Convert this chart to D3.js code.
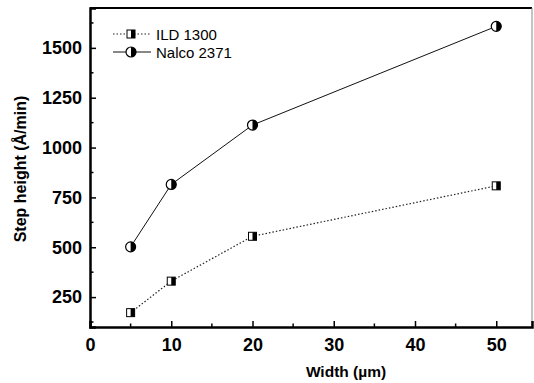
<!DOCTYPE html>
<html><head><meta charset="utf-8">
<script src="https://cdn.jsdelivr.net/npm/d3@7"></script>
<style>body{margin:0;background:#fff}svg{display:block}</style>
</head><body><svg id="c" width="534" height="383"></svg>
<script>
const widths = [5, 10, 20, 50];
const ild1300 = [172, 330, 555, 808];
const nalco2371 = [502, 815, 1113, 1608];
const seriesNames = ["ILD 1300", "Nalco 2371"];
const xTicks = [0, 10, 20, 30, 40, 50];
const yTicks = [250, 500, 750, 1000, 1250, 1500];

const svg = d3.select("#c");
const L = 90, R = 532, T = 8, B = 327;
const x = d3.scaleLinear().domain([0, 54.4]).range([L, R]);
const y = d3.scaleLinear().domain([100, 1700]).range([B, T]);
const font = "'Liberation Sans', Arial, sans-serif";

// frame
svg.append("line").attr("x1", L).attr("x2", R).attr("y1", T).attr("y2", T).attr("stroke", "#000").attr("stroke-width", 2);
svg.append("line").attr("x1", R).attr("x2", R).attr("y1", T).attr("y2", B).attr("stroke", "#888").attr("stroke-width", 1);

// axes
const xAxis = d3.axisBottom(x).tickValues(xTicks).tickSize(-6).tickPadding(11).tickFormat(d3.format("d"));
const gx = svg.append("g").attr("transform", `translate(0,${B})`).call(xAxis);
const yAxis = d3.axisLeft(y).tickValues(yTicks).tickSize(-6).tickPadding(8).tickFormat(d3.format("d"));
const gy = svg.append("g").attr("transform", `translate(${L},0)`).call(yAxis);
[gx, gy].forEach(g => {
  g.select(".domain").attr("stroke", "#000").attr("stroke-width", 2.5);
  g.selectAll(".tick line").attr("stroke", "#000").attr("stroke-width", 1.5);
  g.selectAll("text").attr("font-family", font).attr("font-weight", "bold").attr("font-size", 18).attr("fill", "#000");
});
// minor ticks
const xMinor = d3.range(5, 55, 10);
svg.append("g").selectAll("line").data(xMinor).join("line")
  .attr("x1", d => x(d)).attr("x2", d => x(d)).attr("y1", B).attr("y2", B - 3.5)
  .attr("stroke", "#000").attr("stroke-width", 1.5);
const yMinor = d3.range(125, 1700, 250);
svg.append("g").selectAll("line").data(yMinor).join("line")
  .attr("x1", L).attr("x2", L + 3.5).attr("y1", d => y(d)).attr("y2", d => y(d))
  .attr("stroke", "#000").attr("stroke-width", 1.5);

// axis titles
svg.append("text").attr("x", 346).attr("y", 377).attr("text-anchor", "middle")
  .attr("font-family", font).attr("font-weight", "bold").attr("font-size", 15.5)
  .text("Width (µm)");
svg.append("text").attr("transform", "translate(26,169) rotate(-90)").attr("text-anchor", "middle")
  .attr("font-family", font).attr("font-weight", "bold").attr("font-size", 16)
  .text("Step height (Å/min)");

function square(g, cx, cy) {
  const s = 8;
  g.append("rect").attr("x", cx - s/2).attr("y", cy - s/2).attr("width", s).attr("height", s)
    .attr("fill", "#fff").attr("stroke", "#000").attr("stroke-width", 1);
  g.append("rect").attr("x", cx).attr("y", cy - s/2).attr("width", s/2).attr("height", s).attr("fill", "#000");
}
function circle(g, cx, cy) {
  const r = 5;
  g.append("circle").attr("cx", cx).attr("cy", cy).attr("r", r).attr("fill", "#fff").attr("stroke", "#000").attr("stroke-width", 1.2);
  g.append("path").attr("d", `M${cx},${cy - r} A${r},${r} 0 0 1 ${cx},${cy + r} Z`).attr("fill", "#000");
}

const line = d3.line().x(d => x(d[0])).y(d => y(d[1]));
const ildData = widths.map((w, i) => [w, ild1300[i]]);
const nalcoData = widths.map((w, i) => [w, nalco2371[i]]);

svg.append("path").attr("d", line(ildData)).attr("fill", "none").attr("stroke", "#222")
  .attr("stroke-width", 1.2).attr("stroke-dasharray", "1.5,2");
svg.append("path").attr("d", line(nalcoData)).attr("fill", "none").attr("stroke", "#111")
  .attr("stroke-width", 1);

const mg = svg.append("g");
ildData.forEach(d => square(mg, x(d[0]), y(d[1])));
nalcoData.forEach(d => circle(mg, x(d[0]), y(d[1])));

// legend
const lg = svg.append("g");
const ly = [34, 52];
lg.append("line").attr("x1", 113).attr("x2", 151).attr("y1", ly[0]).attr("y2", ly[0])
  .attr("stroke", "#222").attr("stroke-width", 1.2).attr("stroke-dasharray", "1.5,2");
square(lg, 131, ly[0]);
lg.append("line").attr("x1", 113).attr("x2", 151).attr("y1", ly[1]).attr("y2", ly[1])
  .attr("stroke", "#111").attr("stroke-width", 1);
circle(lg, 131, ly[1]);
seriesNames.forEach((n, i) => {
  lg.append("text").attr("x", 156).attr("y", ly[i] + 5.5).attr("font-family", font)
    .attr("font-size", 15).attr("fill", "#000").text(n);
});
</script></body></html>
